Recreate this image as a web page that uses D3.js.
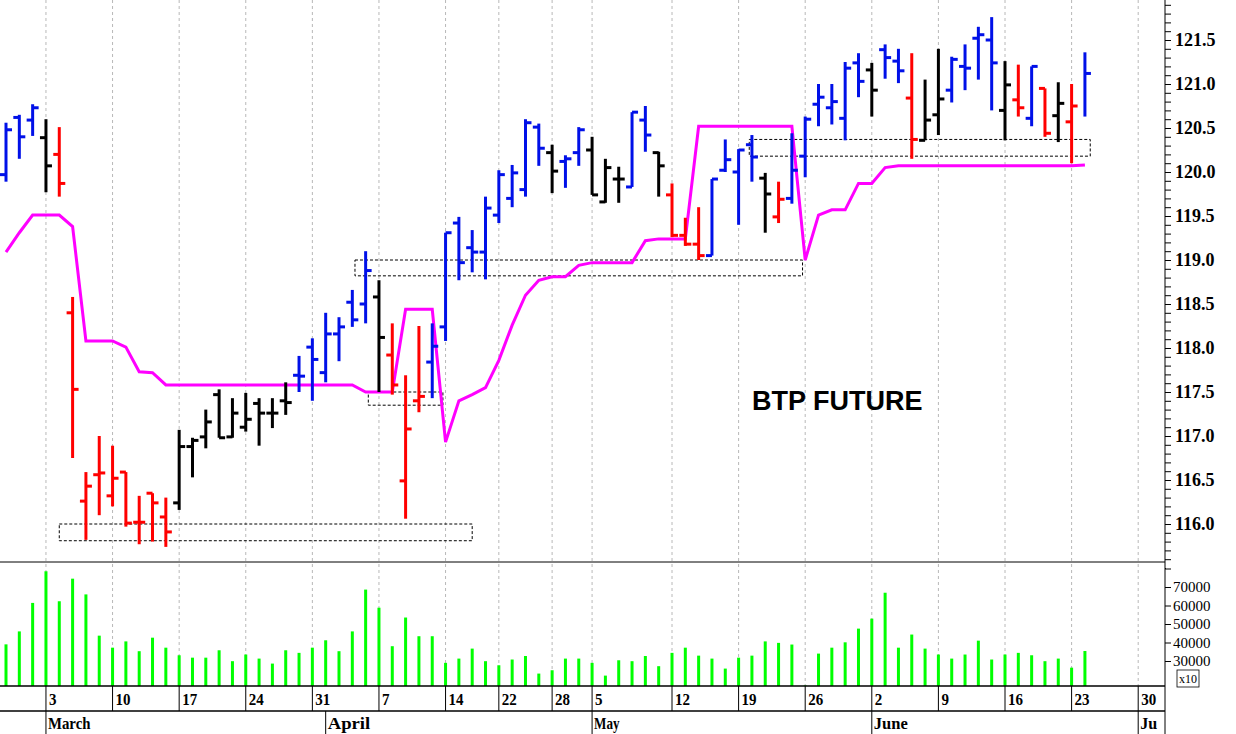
<!DOCTYPE html>
<html>
<head>
<meta charset="utf-8">
<script src="https://cdn.jsdelivr.net/npm/d3@7"></script>
<style>
  body { margin: 0; background: #fff; }
  svg { display: block; }
</style>
</head>
<body>
<div id="chart"></div>
<script>
// daily OHLC, colour code: b = blue, k = black, r = red
const opens  = [119.97,120.62,120.59,120.39,120.20,118.40,116.26,116.56,116.32,116.59,116.02,116.35,116.08,116.24,116.88,116.99,117.47,116.99,117.10,117.37,117.26,117.40,117.69,118.01,117.72,118.16,118.52,118.50,118.58,117.92,116.49,117.40,117.84,118.24,119.42,119.14,119.09,119.51,119.70,119.80,120.51,120.22,120.12,120.22,120.25,119.66,119.92,119.83,120.59,120.22,119.74,119.28,119.18,119.05,120.02,120.00,120.31,119.93,119.49,119.70,120.18,120.77,120.73,120.61,121.24,121.16,121.39,121.26,120.84,120.36,120.65,120.93,121.20,121.52,121.50,120.70,120.82,120.61,120.95,120.64,120.57,null];
const highs  = [120.56,120.65,120.77,120.60,120.51,118.58,116.59,117.00,116.89,116.59,116.32,116.35,116.30,117.07,116.98,117.30,117.53,117.43,117.49,117.43,117.43,117.61,117.91,118.11,118.40,118.35,118.66,119.10,118.77,118.28,117.69,118.25,118.28,119.31,119.49,119.34,119.72,120.02,120.08,120.60,120.55,120.31,120.19,120.51,120.40,120.15,120.06,120.68,120.75,120.23,119.87,119.48,119.60,119.92,120.37,120.26,120.42,119.99,119.89,120.44,120.63,121.00,121.00,121.25,121.35,121.24,121.45,121.40,121.35,121.05,121.40,121.31,121.45,121.65,121.76,121.26,121.22,121.20,120.95,121.02,121.00,121.36];
const lows   = [119.89,120.15,120.41,119.77,119.72,116.75,115.82,116.10,116.20,115.97,115.77,115.80,115.74,116.16,116.53,116.86,116.98,116.98,117.05,116.89,117.09,117.24,117.50,117.40,117.61,117.85,118.24,118.28,117.50,117.47,116.06,117.27,117.43,118.08,118.77,118.86,118.78,119.42,119.60,119.72,120.07,119.76,119.82,120.07,119.74,119.65,119.65,119.83,120.23,119.72,119.26,119.16,119.00,119.05,120.00,119.40,119.89,119.31,119.42,119.64,119.94,120.52,120.54,120.36,120.85,120.63,121.06,121.01,120.15,120.36,120.42,120.79,120.93,121.05,120.70,120.36,120.63,120.52,120.40,120.34,120.10,120.63];
const closes = [120.48,120.40,120.73,120.07,119.87,117.53,116.43,116.58,116.52,116.01,116.02,116.24,115.91,116.88,116.95,117.16,116.98,117.26,117.19,117.26,117.26,117.38,117.68,117.87,118.16,118.24,118.32,118.88,118.12,117.58,117.08,117.45,118.02,119.31,118.97,119.09,119.59,119.97,119.99,120.56,120.27,120.01,120.15,120.48,119.74,120.05,119.92,120.68,120.42,120.07,119.28,119.18,119.05,119.92,120.14,120.25,120.17,119.75,119.69,120.02,120.60,120.85,120.80,121.18,121.03,120.93,121.30,121.15,120.37,120.59,120.83,121.28,121.18,121.56,121.24,120.99,120.73,121.20,120.44,120.78,120.75,121.12];
const barColors = "bbbkrrrrrrrrrkkkkkkkkkbbbbbbkrrrbbbbbbbbbkbbkkkbbkrrrbbbbkrbbbbbbkbbrkkbbbbkrbrkrb".split("");
const stopLine = [119.09,119.31,119.51,119.51,119.51,119.38,118.08,118.08,118.08,118.01,117.73,117.72,
  117.58,117.58,117.58,117.58,117.58,117.58,117.58,117.58,117.58,117.58,117.58,117.58,117.58,117.58,117.58,
  117.50,117.50,117.50,118.44,118.44,118.44,116.93,117.40,117.47,117.55,117.86,118.26,118.60,118.77,118.81,
  118.81,118.94,118.97,118.97,118.97,118.97,119.22,119.24,119.24,119.24,120.52,120.52,120.52,120.52,120.52,
  120.52,120.52,120.52,119.00,119.51,119.57,119.57,119.87,119.87,120.05,120.07,120.07,120.07,120.07,120.07,
  120.07,120.07,120.07,120.07,120.07,120.07,120.07,120.07,120.07,120.08];
const volumes = [39000,46000,61400,78500,62300,74500,66000,43700,37200,40600,35300,42600,37200,33100,31800,31800,
  35800,29900,33500,31300,28600,35800,34400,37200,41200,35300,46000,68600,58800,38000,53500,43400,43400,29000,
  31300,36700,29900,27700,30800,32700,23200,25000,31300,31300,29000,22100,30400,29900,32700,27200,34400,37200,
  32900,31300,25900,31800,32900,40600,39800,38900,16800,34000,37200,40100,47500,52900,66900,37200,44300,36700,
  33500,31300,33500,41000,30800,33500,34400,33100,29900,31300,26400,35400];
// week ticks [bar index, label], month ticks
const weekTicks = [[-2,"24"],[3,"3"],[8,"10"],[13,"17"],[18,"24"],[23,"31"],[28,"7"],[33,"14"],[37,"22"],[41,"28"],
  [44,"5"],[50,"12"],[55,"19"],[60,"26"],[65,"2"],[70,"9"],[75,"16"],[80,"23"],[85,"30"]];
const monthTicks = [[3,"March"],[24,"April"],[44,"May"],[65,"June"],[85,"Ju"]];
const priceLabels = [116.0,116.5,117.0,117.5,118.0,118.5,119.0,119.5,120.0,120.5,121.0,121.5];
const volLabels = [30000,40000,50000,60000,70000];
// dotted boxes [from index, to index, low, high]
const boxes = [[4,35,115.81,116.0],[27.2,32.8,117.35,117.5],[26.2,59.8,118.82,119.0],[55.8,81.4,120.18,120.37]];

const W = 1236, H = 734, axisX = 1165;
const colorMap = {b: "#0010e8", k: "#000", r: "#ff0000"};
const svg = d3.select("#chart").append("svg").attr("width", W).attr("height", H);

const x = d3.scaleLinear().domain([0, 81]).range([6, 6 + 13.32 * 81]);
const y = d3.scaleLinear().domain([121.5, 116.0]).range([40, 524]);
const yv = d3.scaleLinear().domain([70000, 30000]).range([587, 661]);

// grid
svg.selectAll("line.grid").data(weekTicks).enter().append("line")
  .attr("x1", d => x(d[0])).attr("x2", d => x(d[0])).attr("y1", 0).attr("y2", 686)
  .attr("stroke", "#b8b8b8").attr("stroke-dasharray", "3,3");

// boxes
svg.selectAll("rect.box").data(boxes).enter().append("rect")
  .attr("x", d => x(d[0])).attr("width", d => x(d[1]) - x(d[0]))
  .attr("y", d => y(d[3])).attr("height", d => y(d[2]) - y(d[3]))
  .attr("fill", "none").attr("stroke", "#000").attr("stroke-dasharray", "3,2");

// stop line
svg.append("path").datum(stopLine)
  .attr("d", d3.line().x((d, i) => x(i)).y(d => y(d)))
  .attr("fill", "none").attr("stroke", "#ff00ff").attr("stroke-width", 3);

// OHLC bars
const bars = svg.append("g");
highs.forEach((h, i) => {
  const c = colorMap[barColors[i]], xi = x(i);
  bars.append("line").attr("x1", xi).attr("x2", xi).attr("y1", y(h)).attr("y2", y(lows[i]))
    .attr("stroke", c).attr("stroke-width", 3);
  if (opens[i] != null)
    bars.append("line").attr("x1", xi - 6).attr("x2", xi).attr("y1", y(opens[i])).attr("y2", y(opens[i]))
      .attr("stroke", c).attr("stroke-width", 3);
  bars.append("line").attr("x1", xi).attr("x2", xi + 6).attr("y1", y(closes[i])).attr("y2", y(closes[i]))
    .attr("stroke", c).attr("stroke-width", 3);
});

// volume
svg.selectAll("rect.vol").data(volumes).enter().append("rect")
  .attr("x", (d, i) => x(i) - 1.5).attr("width", 3)
  .attr("y", d => yv(d)).attr("height", d => 686 - yv(d)).attr("fill", "#00ff00");

// frame lines
svg.append("line").attr("x1", 0).attr("x2", axisX).attr("y1", 562).attr("y2", 562).attr("stroke", "#000");
svg.append("line").attr("x1", 0).attr("x2", axisX).attr("y1", 686).attr("y2", 686).attr("stroke", "#000").attr("stroke-width", 1.5);
svg.append("line").attr("x1", 0).attr("x2", axisX).attr("y1", 711).attr("y2", 711).attr("stroke", "#000").attr("stroke-width", 1.5);
svg.append("line").attr("x1", axisX).attr("x2", axisX).attr("y1", 0).attr("y2", 734).attr("stroke", "#000");

// right price axis
const pAxis = d3.axisRight(y).tickValues(d3.range(1155, 1220).map(v => v / 10)).tickSize(6)
  .tickFormat(d => priceLabels.some(p => Math.abs(p - d) < 1e-6) ? d.toFixed(1) : "");
svg.append("g").attr("transform", `translate(${axisX},0)`).call(pAxis)
  .call(g => g.select(".domain").remove())
  .selectAll("text").attr("x", 10).style("font-family", "'Liberation Serif', serif")
  .style("font-weight", "bold").style("font-size", "18px");
svg.append("rect").attr("x", axisX + 1).attr("y", 562).attr("width", 70).attr("height", 124).attr("fill", "#fff");
const vAxis = d3.axisRight(yv).tickValues([30000, 40000, 50000, 60000, 70000, 80000]).tickSize(6)
  .tickFormat(d => volLabels.includes(d) ? d : "");
svg.append("g").attr("transform", `translate(${axisX},0)`).call(vAxis)
  .call(g => g.select(".domain").remove())
  .selectAll("text").attr("x", 8).style("font-family", "'Liberation Serif', serif").style("font-size", "15px");
svg.append("rect").attr("x", 1177).attr("y", 670).attr("width", 22).attr("height", 17)
  .attr("fill", "#fff").attr("stroke", "#000").attr("stroke-width", 0.8);
svg.append("text").attr("x", 1179).attr("y", 683).text("x10")
  .style("font-family", "'Liberation Serif', serif").style("font-size", "12px");

// date axis
const dates = svg.append("g").style("font-family", "'Liberation Serif', serif").style("font-weight", "bold");
weekTicks.forEach(d => {
  dates.append("line").attr("x1", x(d[0])).attr("x2", x(d[0])).attr("y1", 686).attr("y2", 711).attr("stroke", "#000");
  dates.append("text").attr("x", x(d[0]) + 3).attr("y", 705).text(d[1]).style("font-size", "16px")
    .attr("textLength", d[1].length * 7.5).attr("lengthAdjust", "spacingAndGlyphs");
});
monthTicks.forEach(d => {
  dates.append("line").attr("x1", x(d[0])).attr("x2", x(d[0])).attr("y1", 711).attr("y2", 734).attr("stroke", "#000");
  dates.append("text").attr("x", x(d[0]) + 2).attr("y", 729).text(d[1]).style("font-size", "16px")
    .attr("textLength", d[1].length * 8.5).attr("lengthAdjust", "spacingAndGlyphs");
});

svg.append("text").attr("x", 752).attr("y", 410).text("BTP FUTURE")
  .style("font-family", "'Liberation Sans', Arial, sans-serif").style("font-weight", "bold").style("font-size", "27px");
</script>
</body>
</html>
